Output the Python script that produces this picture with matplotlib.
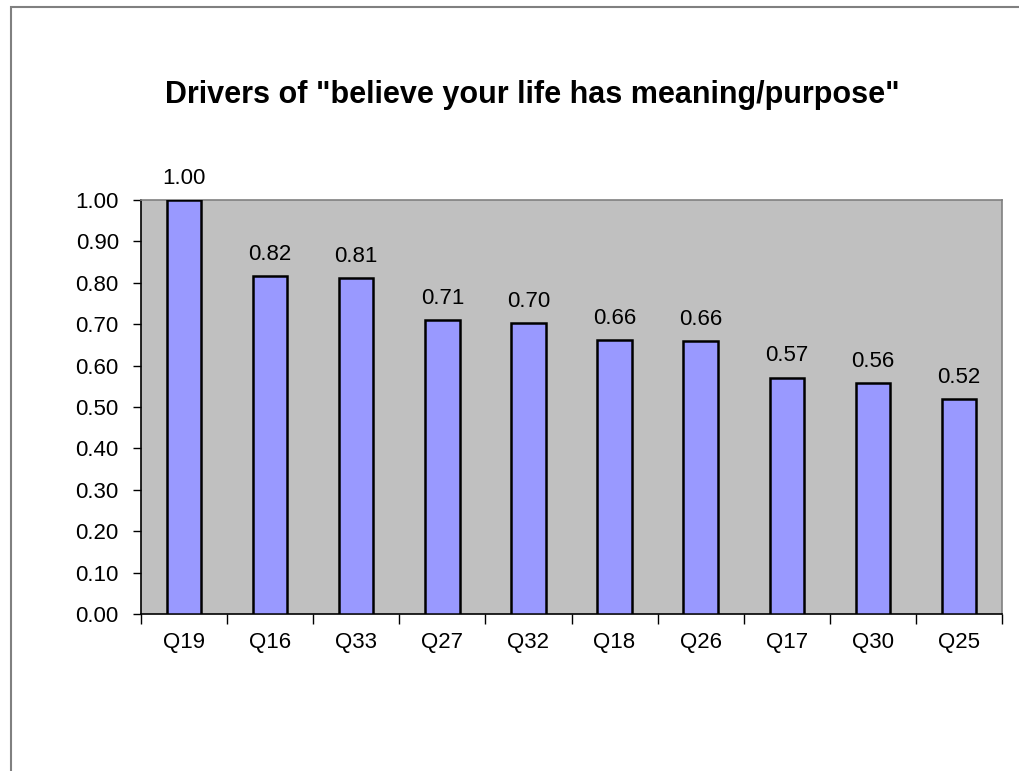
import numpy as np
import matplotlib
matplotlib.use('Agg')
import matplotlib.pyplot as plt
from matplotlib.patches import Rectangle

plt.rcParams['font.family'] = ['Liberation Sans', 'DejaVu Sans']

questions = ['Q19', 'Q16', 'Q33', 'Q27', 'Q32', 'Q18', 'Q26', 'Q17', 'Q30', 'Q25']
scores = [1.00, 0.817, 0.811, 0.710, 0.702, 0.662, 0.660, 0.571, 0.557, 0.519]
yticks = np.around(np.linspace(0.0, 1.0, 11), 2)

fig = plt.figure(figsize=(10.19, 7.71), dpi=100)

# outer chart frame (Excel chart area border, runs off right/bottom)
fig.patches.append(Rectangle((11 / 1019, -0.2), 1.5, (771 - 7) / 771 + 0.2,
                             transform=fig.transFigure, fill=False,
                             edgecolor='#808080', linewidth=1.5))

ax = fig.add_axes([141 / 1019, 1 - 614 / 771, (1002 - 141) / 1019, (614 - 200) / 771])
ax.set_facecolor('#C0C0C0')

x = np.arange(len(questions))
bars = ax.bar(x, scores, width=0.4, color='#9999FF', edgecolor='black', linewidth=1.8, zorder=3)

for xi, v in zip(x, scores):
    ax.annotate('%.2f' % v, (xi, v), xytext=(0, 8), textcoords='offset points',
                ha='center', va='bottom', fontsize=16, annotation_clip=False)

ax.set_xlim(-0.5, len(questions) - 0.5)
ax.set_ylim(0, 1.0)
ax.set_yticks(yticks)
ax.set_yticklabels(['%.2f' % t for t in yticks])
ax.set_xticks(x)
ax.set_xticklabels(questions)
ax.set_xticks(np.arange(len(questions) + 1) - 0.5, minor=True)

ax.tick_params(axis='y', direction='out', length=6, width=1, pad=10, labelsize=16)
ax.tick_params(axis='x', which='major', length=0, pad=13, labelsize=16)
ax.tick_params(axis='x', which='minor', direction='out', length=7, width=1)

ax.spines['left'].set_color('black')
ax.spines['bottom'].set_color('black')
ax.spines['top'].set_color('#808080')
ax.spines['right'].set_color('#808080')
for s in ax.spines.values():
    s.set_linewidth(1.2)

fig.text(532 / 1019, 1 - 103 / 771, 'Drivers of "believe your life has meaning/purpose"',
         ha='center', va='baseline', fontsize=22, fontweight='bold')

fig.savefig('out.png', dpi=100)
